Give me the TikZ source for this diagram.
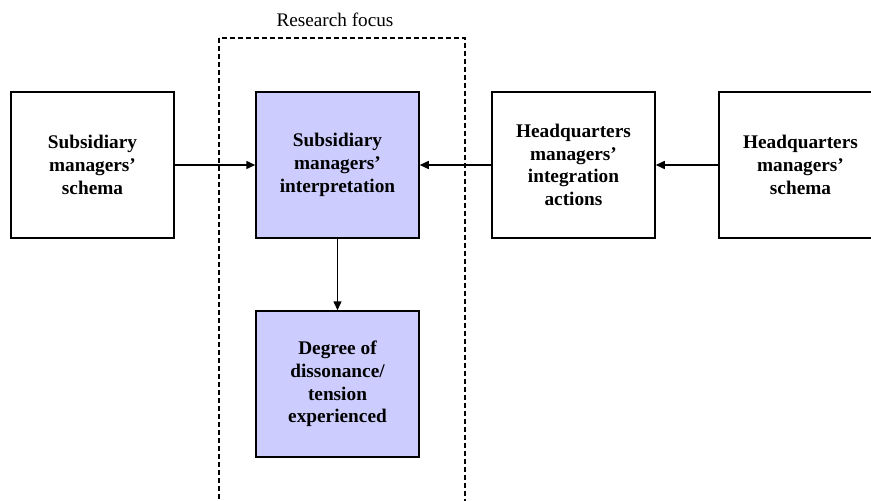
\documentclass[tikz,border=0pt]{standalone}
\usepackage{fontspec}
\setmainfont{Liberation Serif}
\usetikzlibrary{arrows.meta}
\definecolor{focusfill}{HTML}{CCCCFF}

\begin{document}
\begin{tikzpicture}[x=1pt,y=-1pt,
  box/.style={draw, line width=1.5pt, minimum width=163pt, minimum height=146pt,
    align=center, inner sep=0pt,
    font=\fontsize{19.3}{22.7}\selectfont\bfseries},
  focusbox/.style={box, fill=focusfill},
  link/.style={line width=1.5pt, -{Triangle[length=9pt,width=8pt]}},
  focusframe/.style={line width=1.1pt, dash pattern=on 5pt off 3pt}]
\useasboundingbox (0,0) rectangle (871,501);
\begin{scope}
  \clip (0,0) rectangle (871,501);
  % research focus frame (open towards the bottom)
  \draw[focusframe] (219,38) rectangle (465,520);
  \node[anchor=base, font=\fontsize{19.2}{21}\selectfont] (focuslabel) at (335,26) {Research focus};

  \node[box] (subschema) at (92.5,165) {Subsidiary\\managers’\\schema};
  \node[focusbox] (subinterp) at (337.5,165) {Subsidiary\\managers’\\interpretation};
  \node[box] (hqactions) at (573.5,165) {Headquarters\\managers’\\integration\\actions};
  \node[box] (hqschema) at (800.5,165) {Headquarters\\managers’\\schema};
  \node[focusbox] (tension) at (337.5,384) {Degree of\\dissonance/\\tension\\experienced};

  \draw[link] (subschema) -- (subinterp);
  \draw[link] (hqactions) -- (subinterp);
  \draw[link] (hqschema) -- (hqactions);
  \draw[link] (subinterp) -- (tension);
\end{scope}
\end{tikzpicture}
\end{document}
